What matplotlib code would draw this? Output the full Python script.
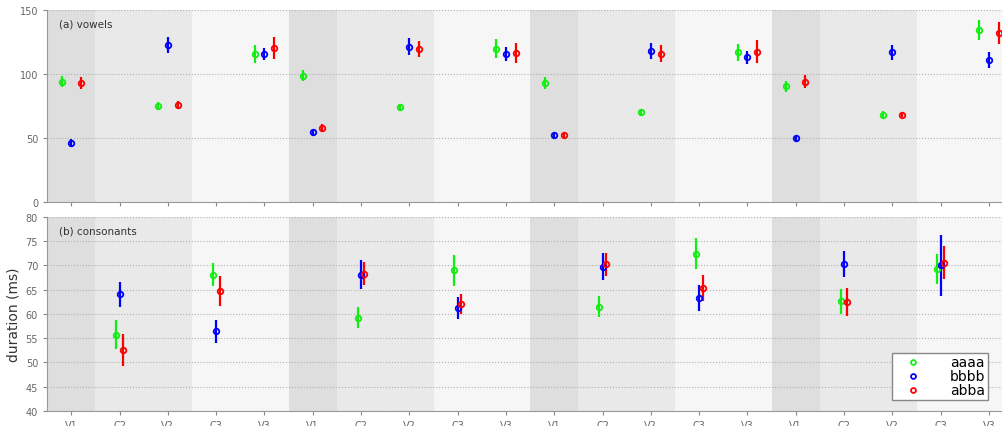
import numpy as np
import matplotlib
matplotlib.use("Agg")
import matplotlib.pyplot as plt

# x categories (4 repetitions of V1 C2 V2 C3 V3)
categories = ["V1", "C2", "V2", "C3", "V3"] * 4
vowel_slots = [i for i, c in enumerate(categories) if c.startswith("V")]
cons_slots = [i for i, c in enumerate(categories) if c.startswith("C")]

# (a) vowels: mean and half error bar, one value per V slot
vow_aaaa = [94, 75.3, 115.6, 98.7, 73.8, 119.7, 93, 70, 117, 90.4, 68.3, 134.3]
vow_aaaa_err = [4.3, 3, 7.3, 4.5, 3, 7.5, 5, 3, 6.5, 4.5, 2.5, 8]
vow_bbbb = [46, 123, 115.6, 54.5, 121.3, 115.6, 52, 118, 113, 49.6, 117, 111]
vow_bbbb_err = [3, 6.3, 5, 2, 6.8, 5.5, 2, 6, 5, 2, 6, 6]
vow_abba = [93, 76, 120.5, 58, 119.5, 116.4, 52, 116, 117.4, 94, 68.3, 132.2]
vow_abba_err = [4.7, 3, 8.7, 3, 6.5, 8, 2, 6.5, 9, 5, 2, 8.5]

# (b) consonants: one value per C slot
con_aaaa = [55.7, 68.1, 59.2, 69, 61.5, 72.4, 62.6, 69.3]
con_aaaa_err = [3, 2.3, 2.2, 3.2, 2.2, 3.2, 2.6, 3.1]
con_bbbb = [64, 56.4, 68.1, 61.2, 69.7, 63.2, 70.2, 70]
con_bbbb_err = [2.6, 2.4, 3, 2.2, 2.8, 2.7, 2.7, 6.3]
con_abba = [52.6, 64.8, 68.3, 62.1, 70.2, 65.4, 62.4, 70.5]
con_abba_err = [3.3, 3.1, 2.4, 2.1, 2.3, 2.7, 2.9, 3.4]

series = ["aaaa", "bbbb", "abba"]
colors = ["#11ee11", "#0000ff", "#ff0000"]

fig = plt.figure(figsize=(10.02, 4.27), dpi=100)
ax_v = fig.add_axes([0.047, 0.525, 0.953, 0.449])
ax_c = fig.add_axes([0.047, 0.035, 0.953, 0.455])

x = np.arange(len(categories))
shades = ["#dedede", "#e9e9e9", "#e9e9e9", "#f6f6f6", "#f6f6f6"]


def style_axes(ax, ylim, yticks):
    for i in x:
        ax.axvspan(i - 0.5, i + 0.5, color=shades[i % 5], lw=0, zorder=0)
    ax.set_xlim(-0.5, 19.27)
    ax.set_ylim(*ylim)
    ax.set_yticks(yticks)
    ax.set_xticks(x)
    ax.grid(axis="y", color="#b0b0b0", linestyle=":", linewidth=0.8, zorder=1)
    ax.set_axisbelow(True)
    for s in ["top", "right"]:
        ax.spines[s].set_visible(False)
    for s in ["left", "bottom"]:
        ax.spines[s].set_color("#999999")
    ax.tick_params(colors="#888888", labelsize=7, length=3, labelcolor="#666666")


style_axes(ax_v, (0, 150), [0, 50, 100, 150])
ax_v.set_xticklabels([])
style_axes(ax_c, (40, 80), list(range(40, 81, 5)))
ax_c.set_xticklabels(categories)

vow_data = [(vow_aaaa, vow_aaaa_err), (vow_bbbb, vow_bbbb_err), (vow_abba, vow_abba_err)]
con_data = [(con_aaaa, con_aaaa_err), (con_bbbb, con_bbbb_err), (con_abba, con_abba_err)]
vx = np.array(vowel_slots, dtype=float)
cx = np.array(cons_slots, dtype=float)

for k, (name, col) in enumerate(zip(series, colors)):
    m, e = vow_data[k]
    ax_v.errorbar(vx + (k - 1) * 0.2, m, yerr=e, fmt="o", color=col, mfc="none",
                  mec=col, ms=4, mew=1.3, elinewidth=1.6, capsize=0, zorder=3)
    m, e = con_data[k]
    ax_c.errorbar(cx + (k - 1) * 0.07, m, yerr=e, fmt="o", color=col, mfc="none",
                  mec=col, ms=4, mew=1.3, elinewidth=1.6, capsize=0, zorder=3,
                  label=name)

ax_v.text(0.012, 0.955, "(a) vowels", transform=ax_v.transAxes, fontsize=7.5,
          color="#333333", va="top")
ax_c.text(0.012, 0.955, "(b) consonants", transform=ax_c.transAxes, fontsize=7.5,
          color="#333333", va="top")
ax_c.set_ylabel("duration (ms)", fontsize=10, color="#333333", labelpad=4)

handles = [plt.Line2D([], [], marker="o", ls="none", mfc="none", mec=c, ms=3.5, mew=1.3)
           for c in colors]
leg = ax_c.legend(handles, series, loc="lower right", bbox_to_anchor=(0.993, 0.02),
                  fontsize=10, frameon=True, fancybox=False, handletextpad=1.4,
                  labelspacing=0.0, borderpad=0.2, handlelength=2.6)
leg.get_frame().set_edgecolor("#888888")
leg.get_frame().set_facecolor("white")
leg.get_frame().set_alpha(1)

fig.savefig("out.png", dpi=100)
